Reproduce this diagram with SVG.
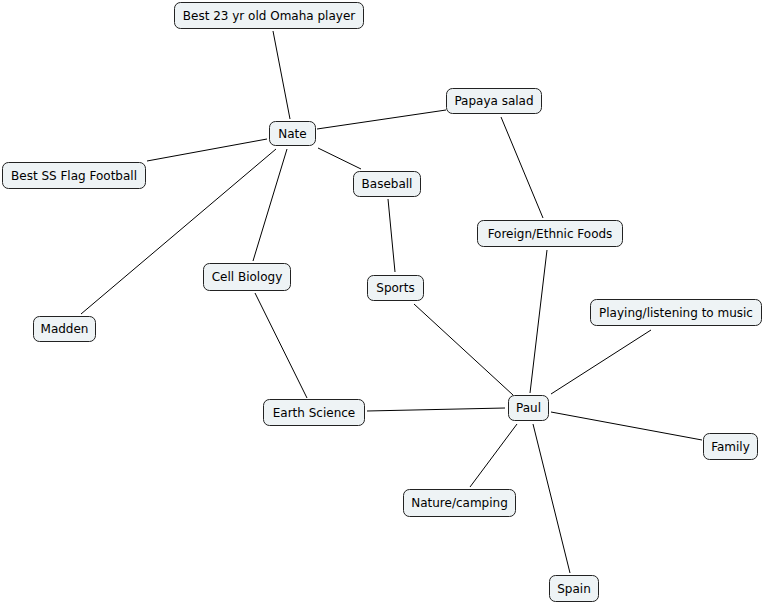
<svg xmlns="http://www.w3.org/2000/svg" width="763" height="604" viewBox="0 0 763 604">
<style>
.n rect{fill:#eef3f5;stroke:#222;stroke-width:1}
.n text{font-family:"DejaVu Sans",Verdana,sans-serif;font-size:12px;fill:#000;text-anchor:middle;dominant-baseline:central}
.c line{stroke:#000;stroke-width:1}
</style>
<rect width="763" height="604" fill="#fff"/>
<g class="c" id="connectors">
<line x1="273" y1="31" x2="290" y2="119"/>
<line x1="317" y1="129" x2="446" y2="110"/>
<line x1="267" y1="139" x2="147" y2="161"/>
<line x1="318" y1="148" x2="361" y2="169"/>
<line x1="276" y1="149" x2="81" y2="314"/>
<line x1="287" y1="149" x2="253" y2="261"/>
<line x1="501" y1="117" x2="543" y2="218"/>
<line x1="388" y1="199" x2="395" y2="272"/>
<line x1="255" y1="293" x2="307" y2="398"/>
<line x1="414" y1="304" x2="513" y2="395"/>
<line x1="547" y1="250" x2="530" y2="393"/>
<line x1="651" y1="330" x2="551" y2="394"/>
<line x1="367" y1="411" x2="505" y2="408"/>
<line x1="551" y1="412" x2="702" y2="440"/>
<line x1="517" y1="424" x2="470" y2="487"/>
<line x1="533" y1="424" x2="570" y2="573"/>
</g>
<g class="n" id="omaha"><rect x="174.5" y="2.5" width="189" height="26" rx="6"/><text x="269" y="15.5">Best 23 yr old Omaha player</text></g>
<g class="n" id="nate"><rect x="269.5" y="121.5" width="46" height="24" rx="6"/><text x="292.5" y="133.5">Nate</text></g>
<g class="n" id="papaya"><rect x="446.5" y="88.5" width="95" height="25" rx="6"/><text x="494" y="101">Papaya salad</text></g>
<g class="n" id="flag"><rect x="2.5" y="162.5" width="143" height="26" rx="6"/><text x="74" y="175.5">Best SS Flag Football</text></g>
<g class="n" id="baseball"><rect x="353.5" y="171.5" width="67" height="25" rx="6"/><text x="387" y="184">Baseball</text></g>
<g class="n" id="foreign"><rect x="477.5" y="220.5" width="145" height="26" rx="6"/><text x="550" y="233.5">Foreign/Ethnic Foods</text></g>
<g class="n" id="cellbio"><rect x="203.5" y="263.5" width="87" height="27" rx="6"/><text x="247" y="277">Cell Biology</text></g>
<g class="n" id="sports"><rect x="367.5" y="275.5" width="56" height="25" rx="6"/><text x="395.5" y="288">Sports</text></g>
<g class="n" id="music"><rect x="590.5" y="299.5" width="171" height="26" rx="6"/><text x="676" y="312.5">Playing/listening to music</text></g>
<g class="n" id="madden"><rect x="33.5" y="316.5" width="62" height="25" rx="6"/><text x="64.5" y="329">Madden</text></g>
<g class="n" id="earth"><rect x="263.5" y="399.5" width="101" height="26" rx="6"/><text x="314" y="412.5">Earth Science</text></g>
<g class="n" id="paul"><rect x="508.5" y="395.5" width="40" height="25" rx="6"/><text x="528.5" y="408">Paul</text></g>
<g class="n" id="family"><rect x="703.5" y="433.5" width="54" height="26" rx="6"/><text x="730.5" y="446.5">Family</text></g>
<g class="n" id="nature"><rect x="403.5" y="489.5" width="112" height="27" rx="6"/><text x="459.5" y="503">Nature/camping</text></g>
<g class="n" id="spain"><rect x="549.5" y="575.5" width="49" height="26" rx="6"/><text x="574" y="588.5">Spain</text></g>
</svg>
